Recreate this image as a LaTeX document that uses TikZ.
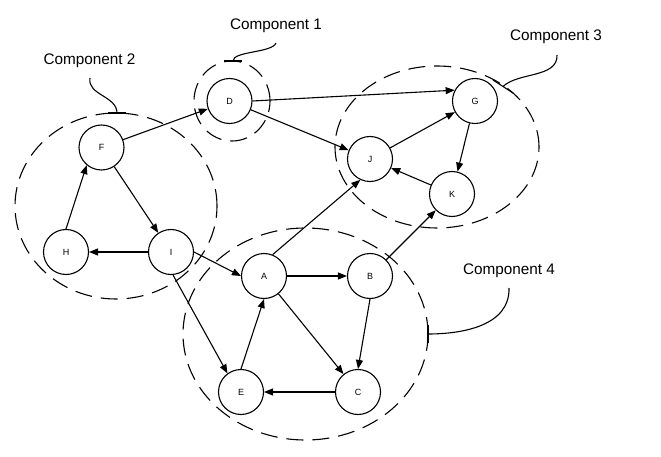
\documentclass[tikz,border=0pt]{standalone}
\usepackage{fontspec}
\setmainfont{Liberation Sans}
\usetikzlibrary{arrows.meta}
\begin{document}
\begin{tikzpicture}[x=1pt,y=-1pt,
 vert/.style={circle,draw,line width=1.1pt,minimum size=45pt,inner sep=0pt,font=\fontsize{9}{9}\selectfont},
 edge/.style={-{Triangle[length=9pt,width=7pt]},line width=1.1pt},
 comp/.style={line width=1.1pt,dash pattern=on 17pt off 9pt},
 brace/.style={line width=1.1pt},
 lbl/.style={font=\fontsize{15.3}{16}\selectfont,anchor=base,inner sep=0pt}]
\useasboundingbox (0,0) rectangle (661,457);
% component outlines
\draw[comp] (232,101) ellipse [x radius=38pt, y radius=40pt];
\draw[comp] (116,206) ellipse [x radius=101pt, y radius=93pt];
\draw[comp] (437,147) ellipse [x radius=102pt, y radius=81pt];
\draw[comp] (305.5,334) ellipse [x radius=122.5pt, y radius=106pt];
% nodes
\node[vert] (D) at (229.5,101) {D};
\node[vert] (F) at (101.5,147.5) {F};
\node[vert] (H) at (66,252) {H};
\node[vert] (I) at (171,252) {I};
\node[vert] (G) at (475,101) {G};
\node[vert] (J) at (370,159) {J};
\node[vert] (K) at (452,194) {K};
\node[vert] (A) at (264,276) {A};
\node[vert] (B) at (370,276) {B};
\node[vert] (E) at (241,392) {E};
\node[vert] (C) at (358,392) {C};
% edges
\draw[edge] (F) -- (D);
\draw[edge] (D.east) -- (G.152);
\draw[edge] (D) -- (J);
\draw[edge] (F) -- (I);
\draw[edge] (H.north) -- (F.230);
\draw[edge] (I.west) -- (H.east);
\draw[edge] (I.east) -- (A.west);
\draw[edge] (I.-85) -- (E.126);
\draw[edge] (A.68) -- (J.245);
\draw[edge] (A.east) -- (B.west);
\draw[edge] (A) -- (C);
\draw[edge] (E.north) -- (A.south);
\draw[edge] (C.west) -- (E.east);
\draw[edge] (B.south) -- (C.north);
\draw[edge] (B) -- (K);
\draw[edge] (J) -- (G);
\draw[edge] (G) -- (K);
\draw[edge] (K) -- (J);
% labels
\node[lbl] (l1) at (276,29.5) {Component 1};
\node[lbl] (l2) at (89.5,64.5) {Component 2};
\node[lbl] (l3) at (556,40.7) {Component 3};
\node[lbl] (l4) at (509,274) {Component 4};
% label connectors
\coordinate (c1s) at (276,43); \coordinate (c1e) at (233,61);
\draw[brace] (c1s) .. controls (272,53) and (233,51) .. (c1e);
\draw[brace] (224,61) -- (242,61);
\coordinate (c2s) at (90,78); \coordinate (c2e) at (117,113);
\draw[brace] (c2s) .. controls (87,95) and (117,96) .. (c2e);
\draw[brace] (108,113) -- (126,113);
\coordinate (c3s) at (557,55); \coordinate (c3e) at (503,86.5);
\draw[brace] (c3s) .. controls (558,78) and (518,72) .. (c3e);
\draw[brace] (493,80) -- (513,93);
\coordinate (c4s) at (509,288); \coordinate (c4e) at (428,334);
\draw[brace] (c4s) .. controls (510,326) and (462,334) .. (c4e);
\draw[brace] (428,325) -- (428,343);
\end{tikzpicture}
\end{document}
